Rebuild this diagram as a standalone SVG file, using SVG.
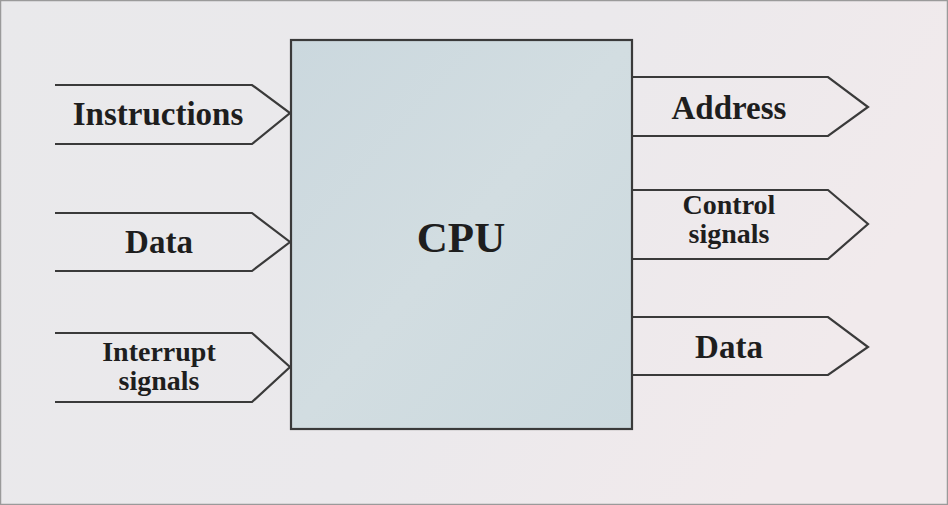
<svg xmlns="http://www.w3.org/2000/svg" width="948" height="505" viewBox="0 0 948 505">
<defs>
<linearGradient id="bg" x1="0" y1="0" x2="1" y2="0.3">
<stop offset="0" stop-color="#e9e9eb"/>
<stop offset="0.6" stop-color="#ebe9ec"/>
<stop offset="1" stop-color="#f1eaec"/>
</linearGradient>
<linearGradient id="cpu" x1="0" y1="0" x2="1" y2="1">
<stop offset="0" stop-color="#cbd8de"/>
<stop offset="0.5" stop-color="#d2dde1"/>
<stop offset="1" stop-color="#cbd9de"/>
</linearGradient>
<style>
.arrow{fill:none;stroke:#3a3a3a;stroke-width:2.2;stroke-linejoin:miter}
.lbl{font-family:"Liberation Serif","Times New Roman",serif;font-weight:bold;fill:#1e1e1e;text-anchor:middle}
.big{font-size:33px}
.small{font-size:28px}
</style>
</defs>
<rect x="0.5" y="0.5" width="947" height="504" fill="url(#bg)" stroke="#9a9a9a" stroke-width="1.5"/>
<g id="connectors">
<g id="in-instructions"><path class="arrow" d="M55,85 H252 L290,113 L252,144 H55"/></g>
<g id="in-data"><path class="arrow" d="M55,213 H252 L290,242 L252,271 H55"/></g>
<g id="in-interrupt"><path class="arrow" d="M55,333 H252 L290,367 L252,402 H55"/></g>
<g id="out-address"><path class="arrow" d="M632,77 H828 L868,107 L828,136 H632"/></g>
<g id="out-control"><path class="arrow" d="M632,190 H828 L868,224 L828,259 H632"/></g>
<g id="out-data"><path class="arrow" d="M632,317 H828 L868,347 L828,375 H632"/></g>
</g>
<g id="cpu-node">
<rect x="291" y="40" width="341" height="389" fill="url(#cpu)" stroke="#3a3a3a" stroke-width="2.2"/>
<text class="lbl" x="461" y="252" font-size="43">CPU</text>
</g>
<g id="label-instructions"><text class="lbl big" x="158" y="125">Instructions</text></g>
<g id="label-data-in"><text class="lbl big" x="159" y="253">Data</text></g>
<g id="label-interrupt"><text class="lbl small" x="159" y="361"><tspan x="159">Interrupt</tspan><tspan x="159" dy="29">signals</tspan></text></g>
<g id="label-address"><text class="lbl big" x="729" y="119">Address</text></g>
<g id="label-control"><text class="lbl small" x="729" y="214"><tspan x="729">Control</tspan><tspan x="729" dy="29">signals</tspan></text></g>
<g id="label-data-out"><text class="lbl big" x="729" y="358">Data</text></g>
</svg>
